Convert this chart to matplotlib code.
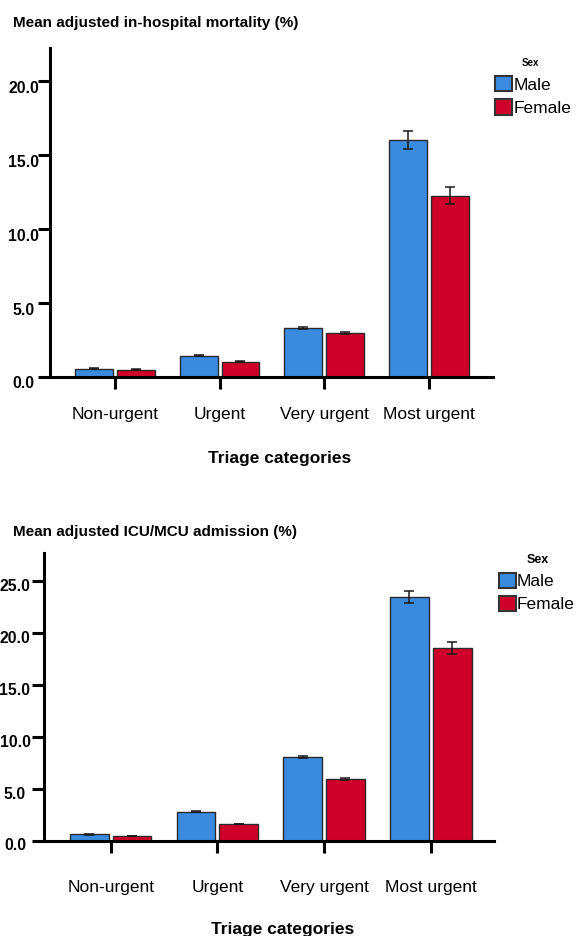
import matplotlib
matplotlib.use("Agg")
import matplotlib.pyplot as plt
import matplotlib.transforms as mtransforms
from matplotlib.patches import Patch
import numpy as np

plt.rcParams["font.family"] = ["Liberation Sans", "DejaVu Sans"]

categories = ["Non-urgent", "Urgent", "Very urgent", "Most urgent"]
sexes = ["Male", "Female"]

mort_male = [0.53, 1.39, 3.28, 15.96]
mort_female = [0.46, 1.00, 2.96, 12.22]
mort_male_err = [0.03, 0.03, 0.08, 0.60]
mort_female_err = [0.02, 0.03, 0.07, 0.58]
mort_ticks = [0.0, 5.0, 10.0, 15.0, 20.0]

icu_male = [0.65, 2.82, 8.08, 23.43]
icu_female = [0.48, 1.63, 5.99, 18.59]
icu_male_err = [0.03, 0.05, 0.12, 0.58]
icu_female_err = [0.03, 0.04, 0.10, 0.58]
icu_ticks = [0.0, 5.0, 10.0, 15.0, 20.0, 25.0]

BLUE = "#3A8BE0"
RED = "#CF0029"
EDGE = "#2a2a2a"

W, H = 576, 936
fig = plt.figure(figsize=(W / 100, H / 100), dpi=100)


def px_rect(left, right, top, bottom):
    return [left / W, 1 - bottom / H, (right - left) / W, (bottom - top) / H]


def panel(rect, male, female, male_err, female_err, yticks, ymax, xlim,
          title, title_y, lab_pad, lab_dy, xpad, xlabel_xy,
          leg_top, leg_left, sex_xy, sex_fs):
    ax = fig.add_axes(rect)
    x = np.arange(len(categories))
    bw, off = 0.363, 0.2
    ax.bar(x - off, male, bw, color=BLUE, edgecolor=EDGE, linewidth=1.0, label="Male")
    ax.bar(x + off, female, bw, color=RED, edgecolor=EDGE, linewidth=1.0, label="Female")
    ax.errorbar(x - off, male, yerr=male_err, fmt="none", ecolor="#1a1a1a",
                elinewidth=1.1, capsize=3.8, capthick=1.1)
    ax.errorbar(x + off, female, yerr=female_err, fmt="none", ecolor="#1a1a1a",
                elinewidth=1.1, capsize=3.8, capthick=1.1)

    ax.set_xlim(*xlim)
    ax.set_ylim(0, ymax)
    for s in ["top", "right"]:
        ax.spines[s].set_visible(False)
    for s in ["left", "bottom"]:
        ax.spines[s].set_linewidth(2.2)
    ax.set_xticks(x, categories, fontsize=12.5)
    ax.set_yticks(yticks, [f"{t:.1f}" for t in yticks], fontsize=11.3,
                  fontweight="bold", ha="center")
    ax.tick_params(axis="x", length=8.6, width=2.2, pad=xpad)
    ax.tick_params(axis="y", length=8.3, width=2.2, pad=lab_pad)
    shift = mtransforms.ScaledTranslation(0, -lab_dy / 100, fig.dpi_scale_trans)
    for lab in ax.get_yticklabels():
        lab.set_transform(lab.get_transform() + shift)

    ax.set_xlabel("Triage categories", fontsize=12.5, fontweight="bold")
    ax.xaxis.set_label_coords(*xlabel_xy)

    fig.text(13 / W, 1 - title_y / H, title, fontsize=11, fontweight="bold",
             ha="left", va="baseline")

    # legend: title drawn separately so the gap above the swatches matches
    handles = [Patch(facecolor=BLUE, edgecolor="#333333", linewidth=1.5),
               Patch(facecolor=RED, edgecolor="#333333", linewidth=1.5)]
    ax.legend(handles, sexes, loc="upper left",
              bbox_to_anchor=(leg_left / W, 1 - leg_top / H),
              bbox_transform=fig.transFigure, frameon=False,
              fontsize=12.5, handlelength=0.98, handleheight=0.98,
              handletextpad=0.08, labelspacing=0.38, borderpad=0,
              borderaxespad=0)
    fig.text(sex_xy[0] / W, 1 - sex_xy[1] / H, "Sex", fontsize=sex_fs,
             fontweight="bold", ha="center", va="baseline")
    return ax


panel(px_rect(50, 492.7, 48, 376.5), mort_male, mort_female, mort_male_err,
      mort_female_err, mort_ticks, 22.2, (-0.621, 3.611),
      "Mean adjusted in-hospital mortality (%)", 26.7,
      10.8, 6, 13.5, (0.5195, -0.227), 76, 495, (530, 66), 7)

panel(px_rect(44.3, 494, 553, 841), icu_male, icu_female, icu_male_err,
      icu_female_err, icu_ticks, 27.7, (-0.622, 3.592),
      "Mean adjusted ICU/MCU admission (%)", 536,
      12.8, 3.5, 19.4, (0.531, -0.280), 572.5, 498.7, (538, 563), 9)

fig.savefig("out.png", dpi=100)
